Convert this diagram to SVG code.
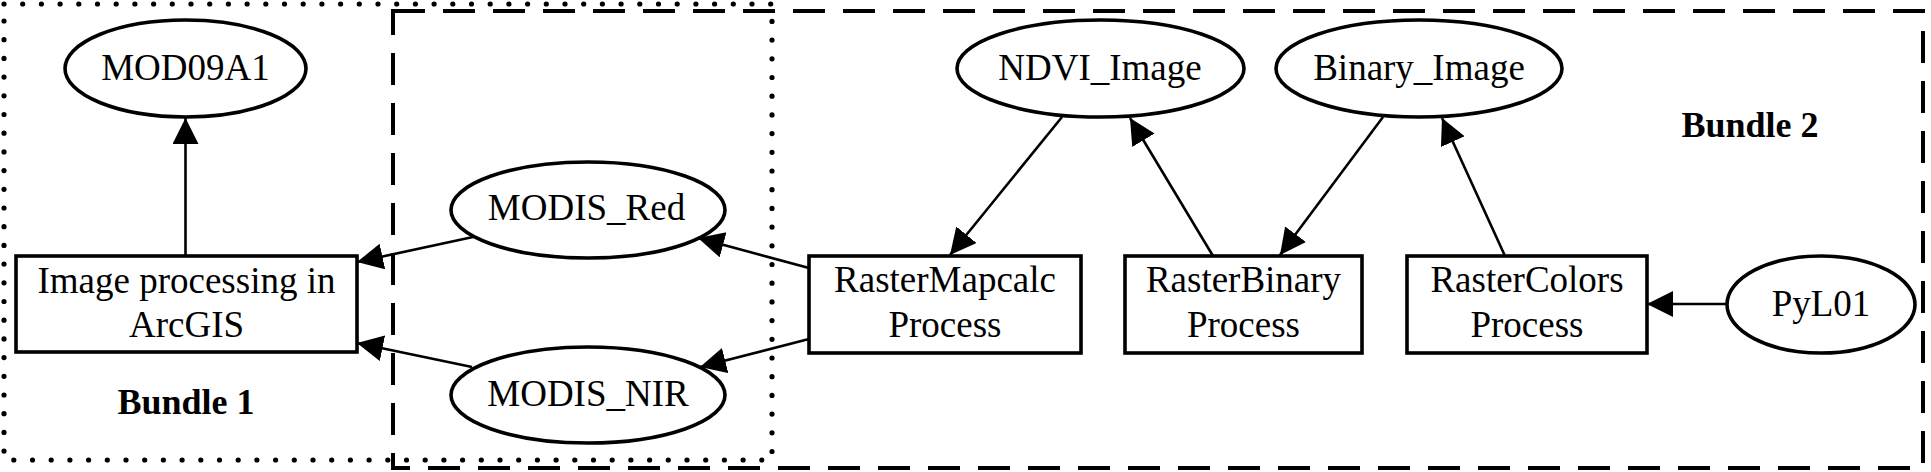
<svg xmlns="http://www.w3.org/2000/svg" width="1931" height="472" viewBox="0 0 1931 472">
<style>
.node{fill:#fff;stroke:#000;stroke-width:3.6}
.lbl{font-size:37px;fill:#000;text-anchor:middle}
.bold{font-size:36px;font-weight:bold;fill:#000;text-anchor:middle}
.edge{stroke:#000;stroke-width:2.6;fill:none;marker-end:url(#ah)}
.dotted{fill:none;stroke:#000;stroke-width:5.2;stroke-linecap:round;stroke-dasharray:0 18.7}
.dashed{fill:none;stroke:#000;stroke-width:4;stroke-dasharray:32 18}
</style>
<defs>
<marker id="ah" markerUnits="userSpaceOnUse" markerWidth="28" markerHeight="28" refX="26" refY="13" orient="auto" viewBox="0 0 28 28">
<path d="M0,0 L26,13 L0,26 Z" fill="#000"/>
</marker>
</defs>
<rect width="1931" height="472" fill="#fff"/>
<g font-family="Liberation Serif, serif">
<g id="clusters">
<rect id="bundle1" class="dotted" x="4" y="4" width="768" height="456"/>
<rect id="bundle2" class="dashed" x="393" y="11" width="1530" height="457"/>
<text class="bold" x="186" y="414">Bundle 1</text>
<text class="bold" x="1750" y="137">Bundle 2</text>
</g>
<g id="edges">
<line class="edge" x1="185.5" y1="256" x2="185.5" y2="118"/>
<line class="edge" x1="473" y1="237" x2="357" y2="262"/>
<line class="edge" x1="472" y1="367" x2="357" y2="343"/>
<line class="edge" x1="809" y1="268" x2="698" y2="238"/>
<line class="edge" x1="809" y1="339" x2="700" y2="367"/>
<line class="edge" x1="1062" y1="117" x2="950" y2="255"/>
<line class="edge" x1="1213" y1="256" x2="1130" y2="118"/>
<line class="edge" x1="1383" y1="117" x2="1280" y2="255"/>
<line class="edge" x1="1505" y1="256" x2="1442" y2="118"/>
<line class="edge" x1="1727" y1="304" x2="1647" y2="304"/>
</g>
<g id="MOD09A1">
<ellipse class="node" cx="185.5" cy="68.5" rx="120.5" ry="48.5"/>
<text class="lbl" x="185.5" y="80">MOD09A1</text>
</g>
<g id="ImageProcessing">
<rect class="node" x="16" y="256" width="341" height="96"/>
<text class="lbl" x="186.5" y="293">Image processing in</text>
<text class="lbl" x="186.5" y="337">ArcGIS</text>
</g>
<g id="MODIS_Red">
<ellipse class="node" cx="588" cy="210" rx="137" ry="48"/>
<text class="lbl" x="586.5" y="220">MODIS_Red</text>
</g>
<g id="MODIS_NIR">
<ellipse class="node" cx="588" cy="395" rx="137" ry="48"/>
<text class="lbl" x="588" y="406">MODIS_NIR</text>
</g>
<g id="RasterMapcalc">
<rect class="node" x="809" y="256" width="272" height="97"/>
<text class="lbl" x="945" y="292">RasterMapcalc</text>
<text class="lbl" x="945" y="337">Process</text>
</g>
<g id="NDVI_Image">
<ellipse class="node" cx="1100.5" cy="68.5" rx="143.5" ry="48.5"/>
<text class="lbl" x="1100" y="80">NDVI_Image</text>
</g>
<g id="Binary_Image">
<ellipse class="node" cx="1419" cy="68.5" rx="143" ry="48.5"/>
<text class="lbl" x="1419" y="80">Binary_Image</text>
</g>
<g id="RasterBinary">
<rect class="node" x="1125" y="256" width="237" height="97"/>
<text class="lbl" x="1243.5" y="292">RasterBinary</text>
<text class="lbl" x="1243.5" y="337">Process</text>
</g>
<g id="RasterColors">
<rect class="node" x="1407" y="256" width="240" height="97"/>
<text class="lbl" x="1527" y="292">RasterColors</text>
<text class="lbl" x="1527" y="337">Process</text>
</g>
<g id="PyL01">
<ellipse class="node" cx="1821" cy="304.5" rx="94" ry="48.5"/>
<text class="lbl" x="1821" y="316">PyL01</text>
</g>
</g>
</svg>
